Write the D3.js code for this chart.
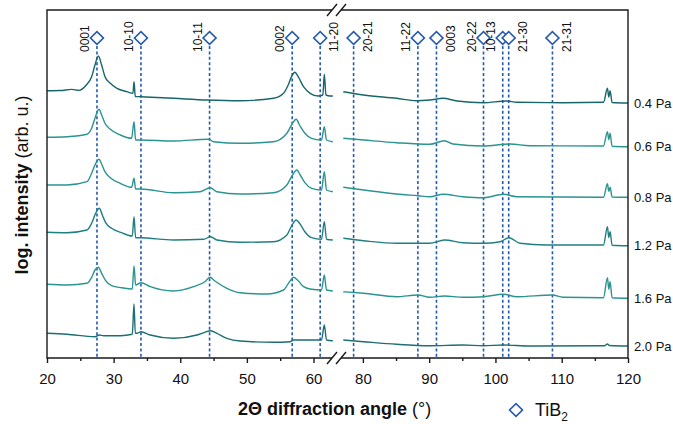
<!DOCTYPE html>
<html>
<head>
<meta charset="utf-8">
<script src="https://cdn.jsdelivr.net/npm/d3@7"></script>
<style>
  body { margin: 0; background: #fff; }
  svg { display: block; font-family: "Liberation Sans", Arial, sans-serif; }
</style>
</head>
<body>
<svg id="chart" width="673" height="424"></svg>
<script>
// ---- Data: XRD patterns (2θ in degrees, log intensity in arb. u. above each trace's baseline)
const seriesLabels = ["0.4 Pa", "0.6 Pa", "0.8 Pa", "1.2 Pa", "1.6 Pa", "2.0 Pa"];
const seriesOffsets = [255, 211.3, 160.7, 112.3, 59.7, 12];

const pattern04 = [
  [20.0,12.3],[22.0,12.5],[23.7,13.6],[24.8,12.6],[25.9,18.0],[26.7,26.3],[27.2,38.0],[27.7,47.0],
  [28.2,38.0],[28.7,26.3],[29.5,19.7],[30.5,14.7],[32.0,11.3],[32.9,9.7],[33.06,21.3],[33.25,6.5],
  [34.0,6.3],[39.0,4.7],[44.0,3.0],[49.0,2.3],[54.0,4.7],[55.5,9.7],[56.2,18.0],[56.7,26.3],
  [57.2,30.7],[57.7,26.3],[58.5,16.3],[59.5,9.7],[60.7,7.0],[61.4,8.0],[61.62,28.7],[61.87,8.0],
  [62.5,7.0],[62.9,7.0],
  [77.05,11.3],[80.1,8.0],[85.1,4.7],[88.1,2.3],[90.1,3.0],[92.1,4.7],[94.2,2.0],[98.2,0.3],
  [101.7,2.0],[103.2,0.7],[110.2,0.3],[116.3,0.7],[116.9,14.7],[117.1,6.0],[117.3,12.3],[117.6,0.5],[120,0]
];
const pattern06 = [
  [20.0,9.4],[23.0,10.0],[26.0,12.4],[26.7,18.4],[27.2,28.4],[27.8,37.4],[28.2,31.7],[28.7,23.4],
  [29.5,17.4],[31.0,11.7],[32.7,8.4],[33.06,25.0],[33.3,6.7],[34.0,6.7],[39.0,5.7],[44.2,7.4],
  [45.0,5.0],[49.0,3.4],[54.0,5.0],[56.0,13.4],[56.7,21.7],[57.4,27.4],[57.9,21.7],[58.7,13.4],
  [59.7,8.4],[61.2,6.7],[61.62,20.0],[61.95,6.7],[62.9,5.0],
  [77.05,8.4],[80.1,6.7],[85.1,4.0],[90.1,2.4],[92.3,6.0],[93.6,2.7],[98.2,0.7],[102.2,2.7],
  [105.2,1.0],[116.3,0.7],[116.9,15.0],[117.1,7.0],[117.3,13.4],[117.6,0.5],[120,0]
];
const pattern08 = [
  [20.0,12.3],[23.0,12.3],[26.0,15.6],[26.7,24.0],[27.2,32.3],[27.8,38.0],[28.2,33.3],[28.7,25.6],
  [29.5,19.6],[31.0,14.0],[32.7,10.0],[33.06,19.0],[33.3,8.3],[34.0,8.3],[39.0,4.6],[43.0,5.6],
  [44.5,9.6],[45.5,5.6],[49.0,3.3],[54.0,4.6],[56.0,12.3],[56.7,20.6],[57.5,27.3],[58.0,22.3],
  [58.7,14.6],[59.7,9.0],[61.2,7.3],[61.62,25.6],[61.95,7.3],[62.9,5.6],
  [77.05,10.0],[80.1,7.3],[85.1,3.3],[88.3,1.6],[90.1,0.6],[92.1,3.0],[95.1,0.6],[98.2,-0.5],
  [101.2,3.0],[103.2,0.6],[116.3,0],[116.9,13.5],[117.1,6.0],[117.3,10.0],[117.6,0.3],[120,0]
];
const pattern12 = [
  [20.0,13.4],[23.0,13.0],[26.0,15.7],[26.7,22.4],[27.3,32.4],[27.85,37.4],[28.3,30.7],[28.8,23.0],
  [29.7,17.4],[31.2,13.0],[32.8,9.7],[33.06,29.0],[33.3,8.0],[34.0,8.0],[39.0,5.7],[43.5,6.4],
  [44.56,9.0],[45.5,5.7],[49.0,3.4],[54.0,4.0],[56.0,10.7],[56.7,19.7],[57.4,25.7],[57.9,22.4],
  [58.7,14.0],[59.7,8.0],[61.2,6.4],[61.62,24.0],[61.95,6.4],[62.9,5.7],
  [77.05,7.4],[80.1,5.0],[85.1,2.4],[90.1,2.4],[92.3,5.7],[95.1,3.0],[98.2,2.4],[100.7,4.0],
  [102.05,8.0],[103.7,2.4],[107.7,0.7],[116.3,0.7],[116.9,19.0],[117.1,8.0],[117.3,14.0],[117.6,0.5],[120,0]
];
const pattern16 = [
  [20.0,14.0],[23.0,13.3],[26.0,15.0],[26.7,21.0],[27.2,28.3],[27.7,31.0],[28.2,25.0],[28.8,17.6],
  [29.7,12.6],[31.2,10.6],[32.8,9.3],[33.06,32.3],[33.3,13.3],[34.1,15.6],[35.5,11.6],[39.0,7.3],
  [42.0,11.6],[43.7,16.6],[44.46,21.0],[45.2,17.3],[47.0,10.0],[49.0,5.6],[53.0,4.3],[55.5,8.3],
  [56.4,16.6],[57.0,21.0],[57.6,18.3],[58.5,11.6],[59.7,9.0],[61.2,8.3],[61.62,23.3],[61.95,8.3],[62.9,7.3],
  [77.05,6.6],[80.1,5.0],[85.1,1.6],[88.3,3.3],[90.1,1.0],[92.3,2.3],[95.1,1.0],[98.2,1.6],
  [101.2,4.0],[103.2,1.6],[108.6,3.3],[110.2,1.0],[116.3,0.6],[116.9,20.6],[117.1,9.0],[117.3,16.6],[117.6,0.5],[120,0]
];
const pattern20 = [
  [20.0,12.7],[23.0,11.7],[27.2,9.3],[27.85,11.0],[28.5,10.3],[31.0,10.3],[32.8,11.7],[33.06,42.0],
  [33.25,12.7],[33.5,12.7],[34.1,14.3],[35.5,11.0],[39.0,7.7],[42.5,11.0],[43.7,13.7],[44.56,15.3],
  [45.5,12.7],[47.0,7.7],[49.0,5.0],[54.0,3.7],[56.5,4.3],[57.0,6.0],[61.2,6.0],[61.62,21.0],
  [61.95,6.0],[62.9,5.3],
  [77.05,6.0],[80.1,4.3],[85.1,1.7],[90.1,0.3],[95.1,1.0],[98.2,0.3],[101.2,1.0],[105.2,0],
  [116.5,0.3],[116.9,2.0],[117.2,0.5],[120,0]
];
const patterns = [pattern04, pattern06, pattern08, pattern12, pattern16, pattern20];

// TiB2 reference reflections
const refNames  = ["0001", "10-10", "10-11", "0002", "11-20", "20-21", "11-22", "0003", "20-22", "10-13", "21-30", "21-31"];
const refAngles = [27.5, 34.1, 44.4, 56.8, 61.0, 78.6, 88.3, 91.1, 98.2, 101.1, 102.0, 108.6];

// Axis ticks
const majorTicks = [20, 30, 40, 50, 60, 80, 90, 100, 110, 120];
const minorTicks = [25, 35, 45, 55, 85, 95, 105, 115];

// ---- Layout & style
const seriesColors = ["#17666a", "#2a9490", "#2a9490", "#1f7f80", "#2a9490", "#1d6e73"];
const refColor = "#2459b0";
const labelOnRight = new Set(["11-20", "20-21", "0003", "21-30", "21-31"]);

const svg = d3.select("#chart");

// Broken x axis: 20–63° and 77–120°
const x = d3.scaleLinear().domain([20, 63, 77, 120]).range([47, 333.5, 343, 628]);
const y = d3.scaleLinear().domain([0, 348]).range([358, 10]);

const frameTop = 10, frameBottom = 358, frameLeft = 47, frameRight = 628;
const breakL = 332, breakR = 341;

// reference lines
const refG = svg.append("g");
refG.selectAll("line").data(refAngles).join("line")
  .attr("x1", d => x(d)).attr("x2", d => x(d))
  .attr("y1", 46).attr("y2", frameBottom)
  .attr("stroke", refColor).attr("stroke-width", 1.6)
  .attr("stroke-dasharray", "3,2.4");

// patterns
const line = d3.line().x(d => x(d[0])).y(d => d.yv).curve(d3.curveMonotoneX);
patterns.forEach((pts, i) => {
  const off = seriesOffsets[i];
  const mapped = pts.map(p => { const o = [p[0], p[1]]; o.yv = y(off + p[1]); return o; });
  [mapped.filter(p => p[0] < 70), mapped.filter(p => p[0] > 70)].forEach(seg => {
    svg.append("path").attr("d", line(seg))
      .attr("fill", "none").attr("stroke", seriesColors[i])
      .attr("stroke-width", 1.4).attr("stroke-linejoin", "round");
  });
  svg.append("text")
    .attr("x", 634).attr("y", y(off)).attr("dy", "0.35em")
    .attr("font-size", 13).attr("fill", "#111")
    .text(seriesLabels[i]);
});

// diamonds + reflection labels
const diamond = d3.symbol(d3.symbolSquare, 84);
refG.selectAll("path").data(refAngles).join("path")
  .attr("d", diamond())
  .attr("transform", d => `translate(${x(d)},38) rotate(45)`)
  .attr("fill", "#fff").attr("stroke", refColor).attr("stroke-width", 1.6);
refG.selectAll("text").data(refNames).join("text")
  .attr("transform", (d, i) => `translate(${x(refAngles[i]) + (labelOnRight.has(d) ? 14 : -12)},52) rotate(-90)`)
  .attr("dy", "0.35em").attr("font-size", 12).attr("fill", "#111")
  .text(d => d);

// frame with break marks
const frame = svg.append("g").attr("stroke", "#1a1a1a").attr("stroke-width", 1.4).attr("fill", "none");
frame.append("path").attr("d",
  `M${breakL},${frameTop}H${frameLeft}V${frameBottom}H${breakL}` +
  `M${breakR},${frameTop}H${frameRight}V${frameBottom}H${breakR}`);
[frameTop, frameBottom].forEach(yy => {
  [breakL, breakR].forEach(cx => {
    frame.append("line")
      .attr("x1", cx - 5).attr("y1", yy + 6).attr("x2", cx + 5).attr("y2", yy - 6);
  });
});

// x axis ticks
const axisMajor = d3.axisBottom(x).tickValues(majorTicks).tickSize(5).tickPadding(10).tickFormat(d3.format("d"));
const axisMinor = d3.axisBottom(x).tickValues(minorTicks).tickSize(3).tickFormat("");
[axisMajor, axisMinor].forEach(ax => {
  const g = svg.append("g").attr("transform", `translate(0,${frameBottom})`).call(ax);
  g.select(".domain").remove();
  g.selectAll("line").attr("stroke", "#1a1a1a").attr("stroke-width", 1.4);
  g.selectAll("text").attr("font-size", 15).attr("fill", "#111")
    .attr("font-family", "'Liberation Sans', Arial, sans-serif");
});

// axis titles
const xt = svg.append("text").attr("x", 238).attr("y", 415).attr("font-size", 18).attr("fill", "#111");
xt.append("tspan").attr("font-weight", "bold").text("2Θ diffraction angle");
xt.append("tspan").text(" (°)");

const yt = svg.append("text").attr("transform", "translate(28,185) rotate(-90)")
  .attr("text-anchor", "middle").attr("font-size", 18).attr("fill", "#111");
yt.append("tspan").attr("font-weight", "bold").text("log. intensity");
yt.append("tspan").text(" (arb. u.)");

// legend
svg.append("path").attr("d", diamond())
  .attr("transform", "translate(516,410) rotate(45)")
  .attr("fill", "#fff").attr("stroke", refColor).attr("stroke-width", 1.6);
const lg = svg.append("text").attr("x", 535).attr("y", 416).attr("font-size", 18).attr("fill", "#111");
lg.append("tspan").text("TiB");
lg.append("tspan").attr("font-size", 12).attr("dy", 5).text("2");
</script>
</body>
</html>
